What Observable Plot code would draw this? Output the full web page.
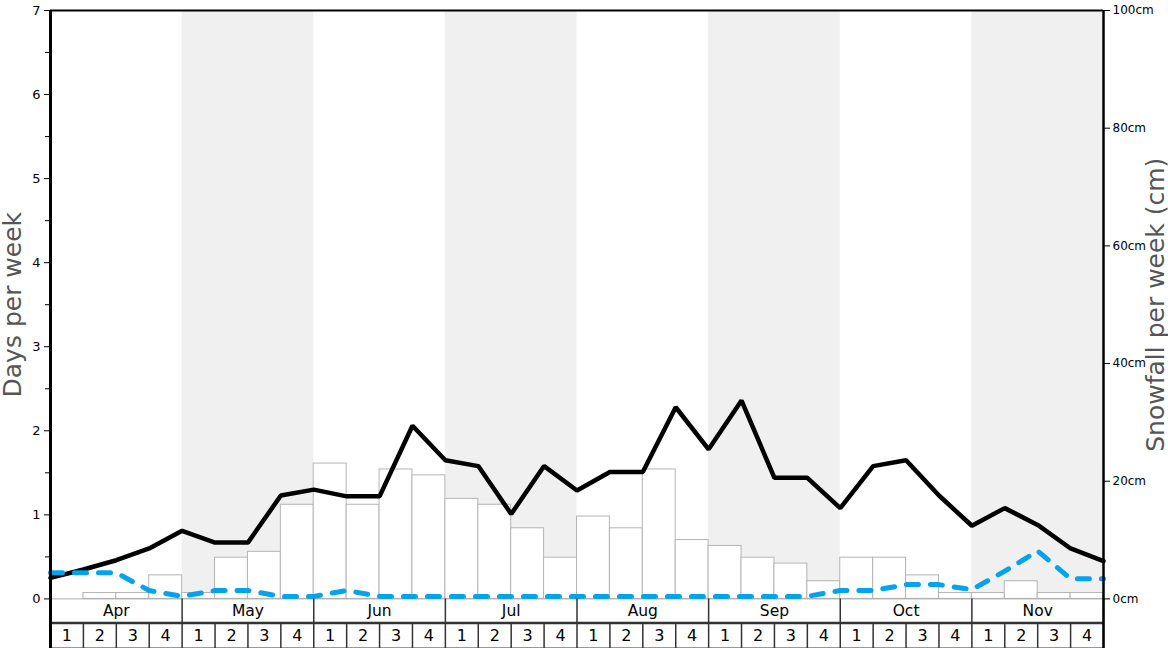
<!DOCTYPE html>
<html>
<head>
<meta charset="utf-8">
<script src="https://cdn.jsdelivr.net/npm/d3@7"></script>
<script src="https://cdn.jsdelivr.net/npm/@observablehq/plot@0.6"></script>
<style>
  html, body { margin: 0; padding: 0; background: #fff; }
  #chart svg { display: block; }
</style>
</head>
<body>
<div id="chart"></div>
<script>
// ---- data ----
const months = ["Apr", "May", "Jun", "Jul", "Aug", "Sep", "Oct", "Nov"];
const weekLabels = ["1", "2", "3", "4"];
// snowfall per week (cm), one bar per week
const snowfallCm = [0, 1, 1, 4, 1, 7, 8, 16, 23, 16, 22, 21, 17, 16, 12, 7,
                    14, 12, 22, 10, 9, 7, 6, 3, 7, 7, 4, 1, 1, 3, 1, 1];
// days per week (solid black line), at week boundaries
const snowDays = [0.25, 0.35, 0.46, 0.6, 0.81, 0.67, 0.67, 1.23, 1.3, 1.22, 1.22, 2.06,
                  1.65, 1.58, 1.01, 1.58, 1.29, 1.51, 1.51, 2.28, 1.78, 2.36, 1.44, 1.44,
                  1.08, 1.58, 1.65, 1.23, 0.87, 1.08, 0.88, 0.6, 0.45];
// days per week (dashed blue line), at week boundaries
const powderDays = [0.31, 0.31, 0.31, 0.1, 0.03, 0.1, 0.1, 0.03, 0.03, 0.1, 0.03, 0.03,
                    0.03, 0.03, 0.03, 0.03, 0.03, 0.03, 0.03, 0.03, 0.03, 0.03, 0.03, 0.03,
                    0.1, 0.1, 0.17, 0.17, 0.11, 0.33, 0.57, 0.24, 0.24];
const leftTicks = [0, 1, 2, 3, 4, 5, 6, 7];
const leftMinorTicks = [0.5, 1.5, 2.5, 3.5, 4.5, 5.5, 6.5];
const rightTicksCm = [0, 20, 40, 60, 80, 100];

// ---- derived ----
const daysMax = 7, cmMax = 100;
const cmToDays = daysMax / cmMax;
const nWeeks = months.length * weekLabels.length;
const monthRowBottom = -0.286, weekRowBottom = -0.59;

const bars = snowfallCm.map((v, i) => ({i, v: v * cmToDays}));
const monthCells = months.map((m, i) => ({m, i}));
const weekCells = d3.range(nWeeks).map(i => ({i, t: weekLabels[i % weekLabels.length]}));
const font = "DejaVu Sans, sans-serif";

const chart = Plot.plot({
  width: 1168,
  height: 648,
  marginLeft: 50,
  marginRight: 65,
  marginTop: 10,
  marginBottom: 0,
  style: {fontFamily: font, background: "#fff", overflow: "visible"},
  x: {domain: [0, nWeeks], axis: null},
  y: {domain: [weekRowBottom, daysMax]},
  marks: [
    // alternating month bands
    Plot.rect(monthCells.filter(d => d.i % 2 === 1), {
      x1: d => d.i * 4, x2: d => d.i * 4 + 4, y1: 0, y2: daysMax, fill: "#f0f0f0"
    }),
    // snowfall bars
    Plot.rect(bars, {x1: d => d.i, x2: d => d.i + 1, y1: 0, y2: d => d.v,
      fill: "#fff", stroke: "#b4b4b4", strokeWidth: 1}),
    Plot.ruleY([0], {stroke: "#aaa", strokeWidth: 1}),
    // lines
    Plot.line(snowDays, {x: (d, i) => i, y: d => d, stroke: "#000", strokeWidth: 4.5, strokeLinejoin: "miter"}),
    Plot.line(powderDays, {x: (d, i) => i, y: d => d, stroke: "#02a3ec", strokeWidth: 5, strokeDasharray: "12,12"}),
    // bottom month/week rows
    Plot.ruleX(d3.range(0, nWeeks + 1, 4), {y1: monthRowBottom, y2: 0, stroke: "#333", strokeWidth: 1.5}),
    Plot.ruleX(d3.range(0, nWeeks + 1), {y1: weekRowBottom, y2: monthRowBottom, stroke: "#333", strokeWidth: 1.5}),
    Plot.ruleY([monthRowBottom], {stroke: "#333", strokeWidth: 2.5}),
    Plot.ruleY([weekRowBottom], {stroke: "#333", strokeWidth: 2}),
    Plot.text(monthCells, {x: d => d.i * 4 + 2, y: monthRowBottom / 2, text: d => d.m,
      fontSize: 15.5, fill: "#000"}),
    Plot.text(weekCells, {x: d => d.i + 0.5, y: (monthRowBottom + weekRowBottom) / 2, text: d => d.t,
      fontSize: 16, fill: "#000"}),
    // frame lines
    Plot.ruleY([daysMax], {stroke: "#000", strokeWidth: 2}),
    Plot.ruleX([0], {y1: weekRowBottom, y2: daysMax, stroke: "#000", strokeWidth: 3}),
    Plot.ruleX([nWeeks], {y1: weekRowBottom, y2: daysMax, stroke: "#000", strokeWidth: 2.5}),
    // left axis
    Plot.axisY({anchor: "left", ticks: leftTicks, tickSize: 6, tickPadding: 4, fontSize: 13, label: null}),
    Plot.axisY({anchor: "left", ticks: leftMinorTicks, tickSize: 5, tickFormat: () => "", label: null}),
    // right axis (cm)
    Plot.axisY({anchor: "right", ticks: rightTicksCm.map(c => c * cmToDays), tickSize: 6, tickPadding: 3,
      tickFormat: d => Math.round(d / cmToDays) + "cm", fontSize: 12, label: null}),
    // axis titles
    Plot.text(["Days per week"], {frameAnchor: "left", y: daysMax / 2, dx: -38, rotate: -90,
      textAnchor: "middle", text: d => d, fontSize: 25, fill: "#555"}),
    Plot.text(["Snowfall per week (cm)"], {frameAnchor: "right", y: daysMax / 2, dx: 52, rotate: -90,
      textAnchor: "middle", text: d => d, fontSize: 25, fill: "#555"})
  ]
});
document.getElementById("chart").append(chart);
</script>
</body>
</html>
